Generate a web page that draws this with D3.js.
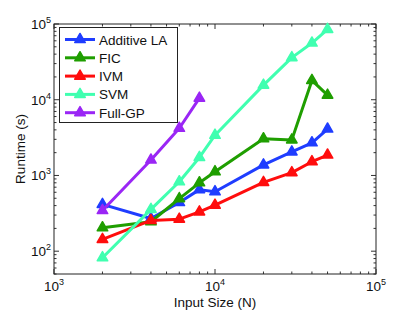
<!DOCTYPE html>
<html>
<head>
<meta charset="utf-8">
<script src="https://cdn.jsdelivr.net/npm/d3@7"></script>
<style>
body { margin: 0; background: #fff; }
svg text { font-family: "Liberation Sans", Arial, sans-serif; }
</style>
</head>
<body>
<script>
// input sizes (N)
var sizes = [2000, 4000, 6000, 8000, 10000, 20000, 30000, 40000, 50000];
var sizesGP = [2000, 4000, 6000, 8000];

// runtimes (s)
var additiveLA = [415, 270, 440, 650, 610, 1380, 2050, 2700, 4100];
var fic = [204, 245, 495, 800, 1120, 3050, 2950, 18000, 11500];
var ivm = [143, 255, 265, 330, 405, 810, 1090, 1520, 1860];
var svm = [82, 357, 825, 1730, 3400, 15600, 36000, 56000, 85000];
var fullGP = [345, 1600, 4200, 10500];

var seriesNames = ["Additive LA", "FIC", "IVM", "SVM", "Full-GP"];
var seriesColors = ["#1f3dff", "#1f9e00", "#ff0d0d", "#40ffb0", "#9a26f5"];

var xTickVals = [1e3, 1e4, 1e5];
var yTickVals = [1e2, 1e3, 1e4, 1e5];

window.onload = function () {
    var width = 415, height = 312;
    var left = 54, right = 376, top = 24, bottom = 274;

    var svg = d3.select("body").append("svg")
        .attr("width", width)
        .attr("height", height);

    var x = d3.scaleLog().domain([1e3, 1e5]).range([left, right]);
    var y = d3.scaleLog().domain([50, 1e5]).range([bottom, top]);

    // minor/major ticks inside, on all four sides
    var xMinor = [], yMinor = [];
    for (var e = 3; e < 5; e++) for (var k = 2; k < 10; k++) xMinor.push(k * Math.pow(10, e));
    for (var e2 = 1; e2 < 5; e2++) for (var k2 = 2; k2 < 10; k2++) {
        var v = k2 * Math.pow(10, e2);
        if (v >= 50) yMinor.push(v);
    }

    var g = svg.append("g");
    var tickColor = "#333";

    function xTicks(vals, len) {
        vals.forEach(function (d) {
            g.append("line").attr("x1", x(d)).attr("x2", x(d))
                .attr("y1", bottom).attr("y2", bottom - len)
                .attr("stroke", tickColor).attr("stroke-width", 1);
            g.append("line").attr("x1", x(d)).attr("x2", x(d))
                .attr("y1", top).attr("y2", top + len)
                .attr("stroke", tickColor).attr("stroke-width", 1);
        });
    }
    function yTicks(vals, len) {
        vals.forEach(function (d) {
            g.append("line").attr("x1", left).attr("x2", left + len)
                .attr("y1", y(d)).attr("y2", y(d))
                .attr("stroke", tickColor).attr("stroke-width", 1);
            g.append("line").attr("x1", right).attr("x2", right - len)
                .attr("y1", y(d)).attr("y2", y(d))
                .attr("stroke", tickColor).attr("stroke-width", 1);
        });
    }
    xTicks(xMinor, 2.5);
    xTicks(xTickVals, 5);
    yTicks(yMinor, 2.5);
    yTicks(yTickVals, 5);

    g.append("rect")
        .attr("x", left).attr("y", top)
        .attr("width", right - left).attr("height", bottom - top)
        .attr("fill", "none").attr("stroke", "#222").attr("stroke-width", 1);

    // tick labels 10^n
    xTickVals.forEach(function (d) {
        var t = g.append("text")
            .attr("x", x(d)).attr("y", 291)
            .attr("text-anchor", "middle")
            .attr("font-size", 13.5).attr("fill", "#111");
        t.append("tspan").text("10");
        t.append("tspan").attr("dy", -6).attr("font-size", 9)
            .text(Math.round(Math.log10(d)));
    });
    yTickVals.forEach(function (d) {
        var t = g.append("text")
            .attr("x", 51).attr("y", y(d) + 5)
            .attr("text-anchor", "end")
            .attr("font-size", 13.5).attr("fill", "#111");
        t.append("tspan").text("10");
        t.append("tspan").attr("dy", -6).attr("font-size", 9)
            .text(Math.round(Math.log10(d)));
    });

    svg.append("text")
        .attr("x", (left + right) / 2).attr("y", 307)
        .attr("text-anchor", "middle")
        .attr("font-size", 13.5).attr("fill", "#111")
        .text("Input Size (N)");
    svg.append("text")
        .attr("transform", "translate(25," + ((top + bottom) / 2) + ") rotate(-90)")
        .attr("text-anchor", "middle")
        .attr("font-size", 13.5).attr("fill", "#111")
        .text("Runtime (s)");

    var series = [
        { xs: sizes, ys: additiveLA },
        { xs: sizes, ys: fic },
        { xs: sizes, ys: ivm },
        { xs: sizes, ys: svm },
        { xs: sizesGP, ys: fullGP }
    ];

    var line = d3.line()
        .x(function (d) { return x(d[0]); })
        .y(function (d) { return y(d[1]); });
    var tri = d3.symbol().type(d3.symbolTriangle).size(48);

    series.forEach(function (s, i) {
        var pts = s.xs.map(function (v, j) { return [v, s.ys[j]]; });
        var c = seriesColors[i];
        svg.append("path").datum(pts)
            .attr("d", line)
            .attr("fill", "none")
            .attr("stroke", c)
            .attr("stroke-width", 3)
            .attr("stroke-linejoin", "round");
        svg.selectAll(null).data(pts).enter()
            .append("path")
            .attr("d", tri)
            .attr("transform", function (d) { return "translate(" + x(d[0]) + "," + y(d[1]) + ")"; })
            .attr("fill", c)
            .attr("stroke", c)
            .attr("stroke-width", 1.5)
            .attr("stroke-linejoin", "round");
    });

    // legend
    var lg = svg.append("g");
    lg.append("rect")
        .attr("x", 59.5).attr("y", 27.5)
        .attr("width", 118).attr("height", 95)
        .attr("fill", "#fff").attr("stroke", "#222").attr("stroke-width", 1);
    seriesNames.forEach(function (name, i) {
        var yy = 39.5 + i * 18.3;
        var c = seriesColors[i];
        lg.append("line")
            .attr("x1", 65).attr("x2", 95)
            .attr("y1", yy).attr("y2", yy)
            .attr("stroke", c).attr("stroke-width", 3);
        lg.append("path")
            .attr("d", tri)
            .attr("transform", "translate(80," + yy + ")")
            .attr("fill", c).attr("stroke", c)
            .attr("stroke-width", 1.5).attr("stroke-linejoin", "round");
        lg.append("text")
            .attr("x", 99).attr("y", yy + 5)
            .attr("font-size", 13.5).attr("fill", "#111")
            .text(name);
    });
};
</script>
</body>
</html>
